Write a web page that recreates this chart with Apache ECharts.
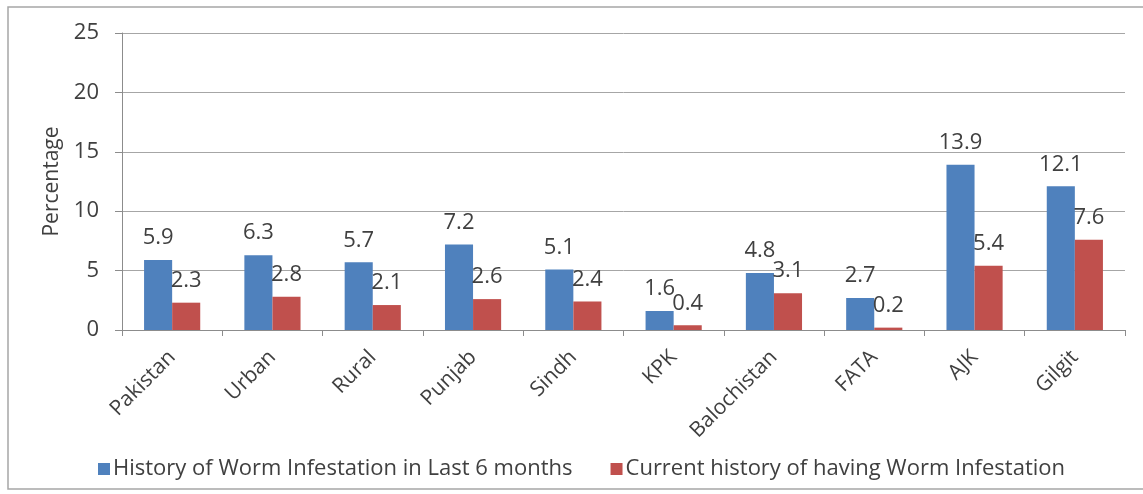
<!DOCTYPE html>
<html>
<head>
<meta charset="utf-8">
<script src="https://cdn.jsdelivr.net/npm/echarts@6/dist/echarts.min.js"></script>
<style>
html,body{margin:0;padding:0;background:#fff;}
#chart{width:1143px;height:494px;}
</style>
</head>
<body>
<div id="chart"></div>
<script>
const categories = ['Pakistan','Urban','Rural','Punjab','Sindh','KPK','Balochistan','FATA','AJK','Gilgit'];
const historyLast6 = [5.9,6.3,5.7,7.2,5.1,1.6,4.8,2.7,13.9,12.1];
const currentHistory = [2.3,2.8,2.1,2.6,2.4,0.4,3.1,0.2,5.4,7.6];
const seriesNames = ['History of Worm Infestation in Last 6 months','Current history of having Worm Infestation'];
const yTicks = {min:0,max:25,interval:5};

const font = '"Open Sans", sans-serif';
const chart = echarts.init(document.getElementById('chart'));
const labelCfg = {show:true, position:'top', distance:11, fontSize:22, color:'#404040', fontFamily:font};
chart.setOption({
  backgroundColor:'#fff',
  animation:false,
  graphic:[{type:'rect', shape:{x:8,y:7,width:1160,height:482}, style:{fill:'none',stroke:'#a6a6a6',lineWidth:1.5}, silent:true}],
  grid:{left:122,right:18,top:33,bottom:164},
  legend:{top:453,left:93,itemWidth:12,itemHeight:12,itemGap:38,icon:'rect',
    textStyle:{fontSize:22,color:'#404040',fontFamily:font,padding:[0,0,0,-2]}},
  xAxis:{type:'category',data:categories,
    axisLine:{lineStyle:{color:'#8c8c8c'}},
    axisTick:{show:true,alignWithLabel:false,length:6,lineStyle:{color:'#8c8c8c'}},
    axisLabel:{interval:0,rotate:45,fontSize:21,color:'#404040',fontFamily:font,margin:24}},
  yAxis:{type:'value',min:yTicks.min,max:yTicks.max,interval:yTicks.interval,
    name:'Percentage',nameLocation:'middle',nameGap:59,nameRotate:90,
    nameTextStyle:{fontSize:21,color:'#404040',fontFamily:font},
    axisLine:{show:true,lineStyle:{color:'#8c8c8c'}},
    axisTick:{show:true,length:7,lineStyle:{color:'#8c8c8c'}},
    axisLabel:{fontSize:22,color:'#404040',fontFamily:font,margin:23},
    splitLine:{lineStyle:{color:'#a6a6a6',width:1}}},
  series:[
    {name:seriesNames[0],type:'bar',data:historyLast6,barGap:'0%',barCategoryGap:'44%',
     itemStyle:{color:'#4f81bd'},label:labelCfg},
    {name:seriesNames[1],type:'bar',data:currentHistory,barGap:'0%',barCategoryGap:'44%',
     itemStyle:{color:'#c0504d'},label:labelCfg}
  ]
});
</script>
</body>
</html>
